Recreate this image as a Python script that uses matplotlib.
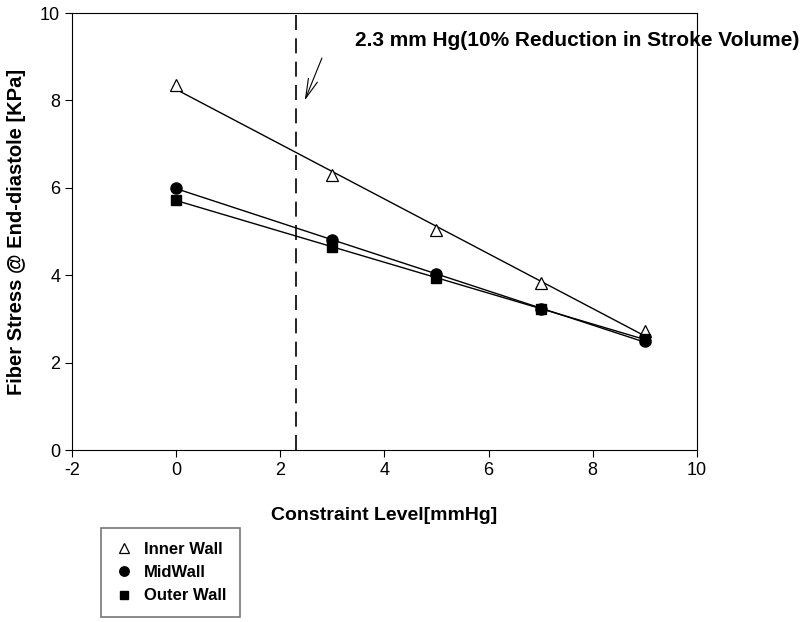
import numpy as np
import matplotlib
matplotlib.use('Agg')
import matplotlib.pyplot as plt

plt.rcParams['font.family'] = ['Liberation Sans', 'DejaVu Sans']
plt.rcParams['axes.unicode_minus'] = False

# constraint level [mmHg]
levels = [0, 3, 5, 7, 9]
inner_wall = [8.35, 6.30, 5.03, 3.82, 2.72]
mid_wall = [6.00, 4.80, 4.02, 3.22, 2.50]
outer_wall = [5.72, 4.65, 3.93, 3.22, 2.55]

threshold = 2.3

fig = plt.figure(figsize=(8, 6.22), dpi=100)
ax = fig.add_axes([0.09, 0.2765, 0.781, 0.7025])

series = [
    ('Inner Wall', inner_wall, dict(marker='^', mfc='white', mec='black', ms=8, mew=0.9)),
    ('MidWall', mid_wall, dict(marker='o', mfc='black', mec='black', ms=8)),
    ('Outer Wall', outer_wall, dict(marker='s', mfc='black', mec='black', ms=7)),
]

x = np.array(levels, dtype=float)
xx = np.array([x.min(), x.max()])
for name, vals, style in series:
    # linear regression line through the points
    k, b = np.polyfit(x, vals, 1)
    ax.plot(xx, k * xx + b, color='black', lw=1.0, zorder=2)
    ax.plot(x, vals, ls='none', label=name, zorder=3, **style)

ax.axvline(threshold, color='black', lw=1.2, ls=(0, (9, 5)), zorder=1)

ax.text(3.43, 9.38, '2.3 mm Hg(10% Reduction in Stroke Volume)',
        fontsize=15, fontweight='bold', va='center', ha='left')
ax.annotate('', xy=(2.47, 8.0), xytext=(2.8, 8.97),
            arrowprops=dict(arrowstyle='->,head_length=1.4,head_width=0.35',
                            color='black', lw=0.8, shrinkA=0, shrinkB=0))

ax.set_xlim(-2, 10)
ax.set_ylim(0, 10)
ax.set_xticks(range(-2, 11, 2))
ax.set_yticks(range(0, 11, 2))
ax.tick_params(direction='out', length=5, labelsize=13, top=False, right=False)
ax.set_xlabel('Constraint Level[mmHg]', fontsize=14, fontweight='bold', labelpad=20)
ax.set_ylabel('Fiber Stress @ End-diastole [KPa]', fontsize=14.5, fontweight='bold', labelpad=10)

leg = fig.legend(loc='lower left', bbox_to_anchor=(0.122, 0.003), frameon=True,
                 fancybox=False, edgecolor='#555555',
                 prop=dict(weight='bold', size=12), handletextpad=0.6,
                 handlelength=1.2, borderpad=0.8, labelspacing=0.5,
                 markerscale=0.85, borderaxespad=0.2)
leg.get_frame().set_linewidth(1.2)

fig.savefig('out.png', dpi=100)
